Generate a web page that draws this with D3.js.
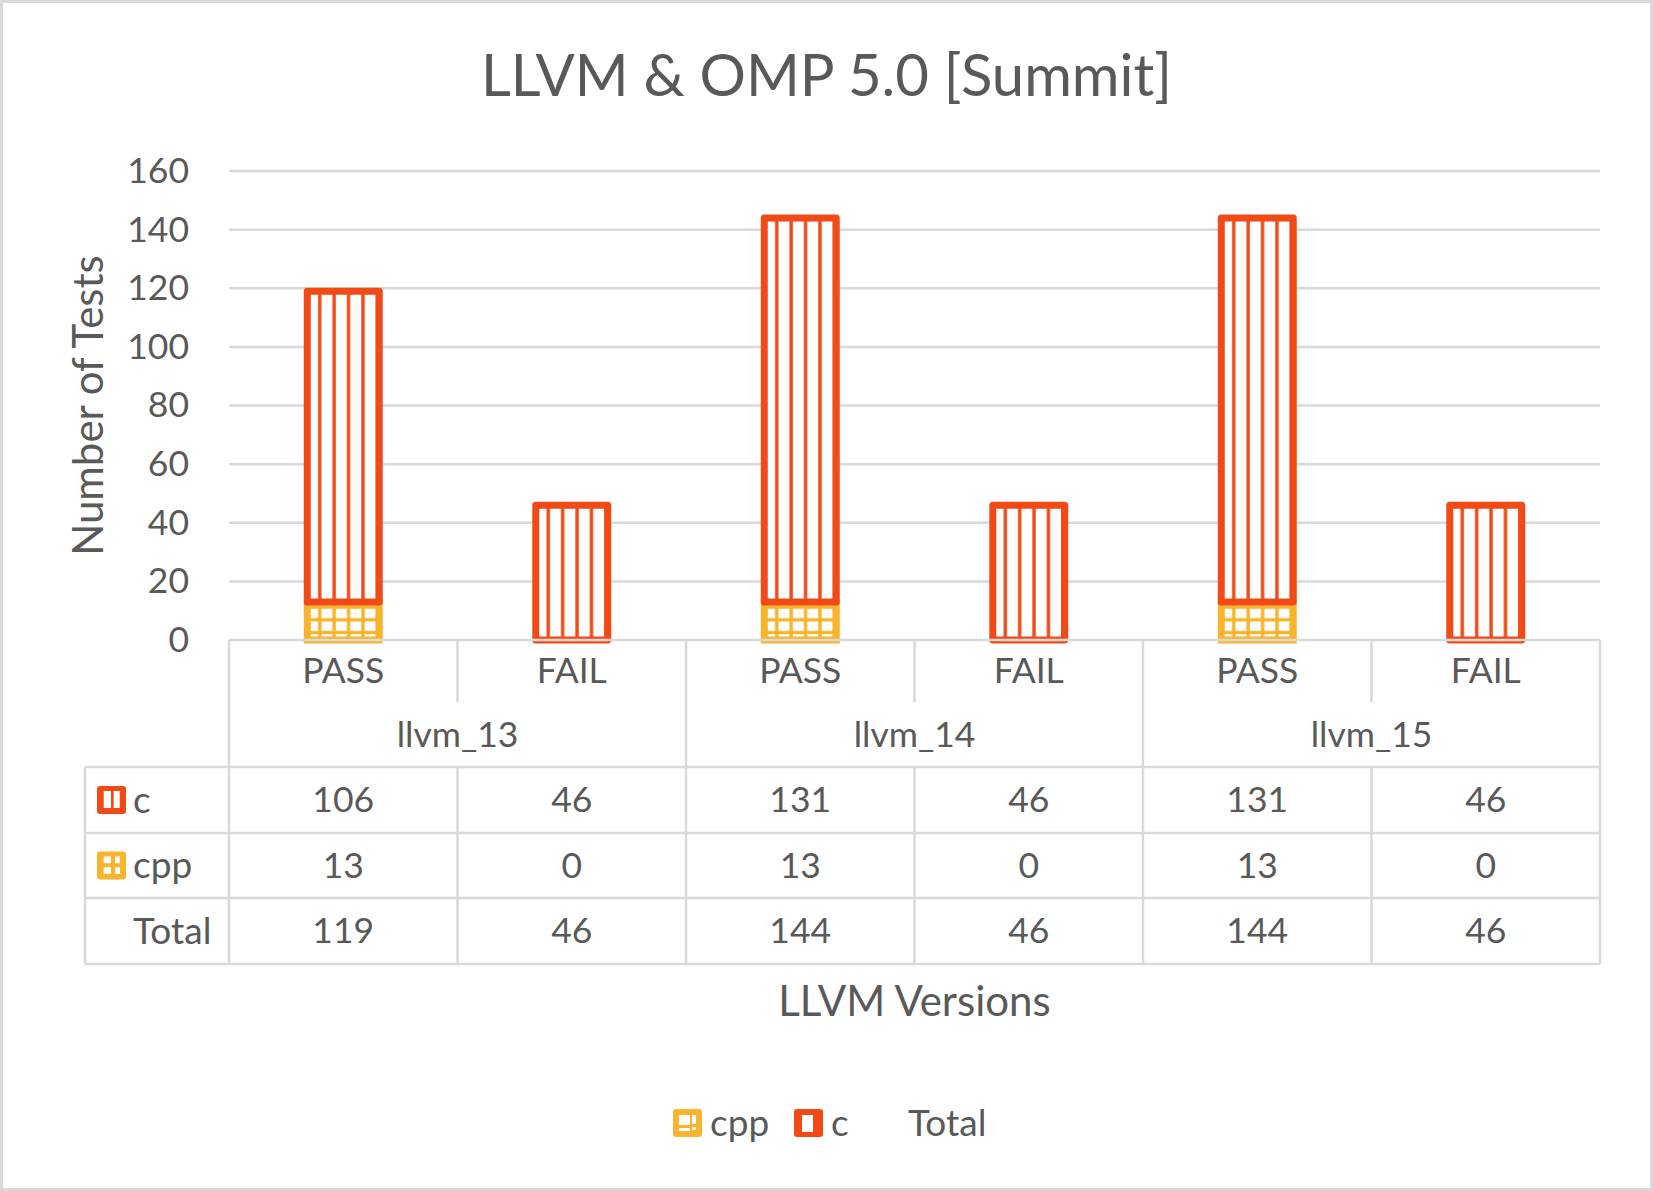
<!DOCTYPE html>
<html>
<head>
<meta charset="utf-8">
<script src="https://cdn.jsdelivr.net/npm/d3@7"></script>
<style>
  body { margin: 0; background: #fff; }
  svg text { font-family: Lato, "Open Sans", sans-serif; fill: #595959; }
</style>
</head>
<body>
<svg id="chart" width="1653" height="1191"></svg>
<script>
// chart data
const versions = ['llvm_13', 'llvm_14', 'llvm_15'];
const outcomes = ['PASS', 'FAIL'];
const cValues = [106, 46, 131, 46, 131, 46];
const cppValues = [13, 0, 13, 0, 13, 0];
const totalValues = [119, 46, 144, 46, 144, 46];
const yTicks = [0, 20, 40, 60, 80, 100, 120, 140, 160];

const orange = '#F14A16';
const yellow = '#F8B42C';
const lineGrey = '#D9D9D9';

const W = 1653, H = 1191;
const plotLeft = 229, plotRight = 1600, plotTop = 171, plotBase = 640;

const keys = [];
versions.forEach(v => outcomes.forEach(o => keys.push(v + '|' + o)));

const svg = d3.select('#chart');
const defs = svg.append('defs');

svg.append('rect')
  .attr('x', 1.5).attr('y', 1.5)
  .attr('width', W - 3).attr('height', H - 3)
  .attr('fill', '#fff').attr('stroke', lineGrey).attr('stroke-width', 3);

const x = d3.scaleBand().domain(keys).range([plotLeft, plotRight]);
const y = d3.scaleLinear().domain([0, 160]).range([plotBase, plotTop]);
const barW = x.bandwidth() * 0.315;

// title
svg.append('text')
  .attr('x', W / 2).attr('y', 96)
  .attr('text-anchor', 'middle')
  .style('font-size', '58px')
  .text('LLVM & OMP 5.0 [Summit]');

// gridlines
svg.append('g')
  .selectAll('line')
  .data(yTicks.filter(d => d > 0))
  .join('line')
  .attr('x1', plotLeft).attr('x2', plotRight)
  .attr('y1', d => y(d)).attr('y2', d => y(d))
  .attr('stroke', lineGrey).attr('stroke-width', 2.5);

// y axis labels
const yAxis = svg.append('g')
  .attr('transform', `translate(${plotLeft},0)`)
  .call(d3.axisLeft(y).tickValues(yTicks).tickSize(0).tickPadding(40));
yAxis.select('.domain').remove();
yAxis.selectAll('text')
  .style('font-size', '35.5px')
  .attr('fill', '#595959')
  .style('font-family', 'Lato, "Open Sans", sans-serif');

svg.append('text')
  .attr('transform', `translate(88,${(plotTop + plotBase) / 2}) rotate(-90)`)
  .attr('text-anchor', 'middle')
  .attr('dy', '0.35em')
  .style('font-size', '42px')
  .text('Number of Tests');

// patterns, one per bar so the hatching starts at the bar edge
function makePattern(id, bx, by, color, grid) {
  const ph = grid ? 12.7 : 2000;
  const p = defs.append('pattern')
    .attr('id', id)
    .attr('patternUnits', 'userSpaceOnUse')
    .attr('x', bx).attr('y', by)
    .attr('width', barW / 5).attr('height', ph);
  p.append('rect').attr('width', barW / 5).attr('height', ph).attr('fill', '#fff');
  p.append('rect').attr('x', 10.8).attr('width', 3.4).attr('height', ph).attr('fill', color);
  if (grid) {
    p.append('rect').attr('y', 3.5).attr('width', barW / 5).attr('height', 3.4).attr('fill', color);
  }
}

const bars = svg.append('g');
keys.forEach((k, i) => {
  const bx = x(k) + (x.bandwidth() - barW) / 2;
  if (cppValues[i] > 0) {
    const y0 = y(cppValues[i]);
    makePattern('cpp-' + i, bx, y0, yellow, true);
    bars.append('rect')
      .attr('x', bx).attr('y', y0)
      .attr('width', barW).attr('height', y(0) - y0)
      .attr('fill', `url(#cpp-${i})`)
      .attr('stroke', yellow).attr('stroke-width', 7);
  }
  const yTop = y(cppValues[i] + cValues[i]);
  const yBot = y(cppValues[i]);
  makePattern('c-' + i, bx, yTop, orange, false);
  bars.append('rect')
    .attr('x', bx).attr('y', yTop)
    .attr('width', barW).attr('height', yBot - yTop)
    .attr('fill', `url(#c-${i})`)
    .attr('stroke', orange).attr('stroke-width', 7)
    .attr('stroke-linejoin', 'round');
});

// data table
const tLeft = 85;
const rowCat = [plotBase, 702];
const rowGroup = [702, 767];
const rows = [767, 833, 898, 964];
const grid = svg.append('g').attr('stroke', lineGrey).attr('stroke-width', 2.5);

grid.append('line').attr('x1', plotLeft).attr('x2', plotRight).attr('y1', plotBase).attr('y2', plotBase);
rows.forEach(ry => grid.append('line').attr('x1', tLeft).attr('x2', plotRight).attr('y1', ry).attr('y2', ry));
grid.append('line').attr('x1', tLeft).attr('x2', tLeft).attr('y1', rows[0]).attr('y2', rows[3]);

const groupW = (plotRight - plotLeft) / versions.length;
d3.range(versions.length + 1).forEach(i => {
  const gx = plotLeft + i * groupW;
  grid.append('line').attr('x1', gx).attr('x2', gx).attr('y1', plotBase).attr('y2', rows[3]);
});
keys.forEach((k, i) => {
  if (i % 2 === 1) {
    const sx = x(k);
    grid.append('line').attr('x1', sx).attr('x2', sx).attr('y1', rowCat[0]).attr('y2', rowCat[1]);
    grid.append('line').attr('x1', sx).attr('x2', sx).attr('y1', rows[0]).attr('y2', rows[3]);
  }
});

const cellText = (tx, ty, txt, anchor, size) => svg.append('text')
  .attr('x', tx).attr('y', ty)
  .attr('dy', '0.35em')
  .attr('text-anchor', anchor || 'middle')
  .style('font-size', (size || 35.5) + 'px')
  .text(txt);

keys.forEach((k, i) => {
  const cx = x(k) + x.bandwidth() / 2;
  cellText(cx, (rowCat[0] + rowCat[1]) / 2, k.split('|')[1]);
  cellText(cx, (rows[0] + rows[1]) / 2, cValues[i]);
  cellText(cx, (rows[1] + rows[2]) / 2, cppValues[i]);
  cellText(cx, (rows[2] + rows[3]) / 2, totalValues[i]);
});
versions.forEach((v, i) => {
  cellText(plotLeft + (i + 0.5) * groupW, (rowGroup[0] + rowGroup[1]) / 2, v);
});

// small swatches drawn as solid squares with white holes
function swatch(g, color, holes) {
  g.append('rect').attr('width', 29).attr('height', 28).attr('rx', 3).attr('fill', color);
  holes.forEach(h => g.append('rect')
    .attr('x', h[0]).attr('y', h[1]).attr('width', h[2]).attr('height', h[3]).attr('fill', '#fff'));
}

const cHolesTable = [[6.7, 5, 7.3, 17], [16.7, 5, 6, 17]];
const cppHolesTable = [[6.7, 5, 7.3, 6.7], [18, 5, 5, 6.7], [6.7, 15.7, 7.3, 6.7], [18, 15.7, 5, 6.7]];

swatch(svg.append('g').attr('transform', `translate(97,${(rows[0] + rows[1]) / 2 - 14})`), orange, cHolesTable);
swatch(svg.append('g').attr('transform', `translate(97,${(rows[1] + rows[2]) / 2 - 14})`), yellow, cppHolesTable);
cellText(133, (rows[0] + rows[1]) / 2, 'c', 'start', 37);
cellText(133, (rows[1] + rows[2]) / 2, 'cpp', 'start', 37);
cellText(133, (rows[2] + rows[3]) / 2, 'Total', 'start', 37);

svg.append('text')
  .attr('x', (plotLeft + plotRight) / 2).attr('y', 1001)
  .attr('dy', '0.35em')
  .attr('text-anchor', 'middle')
  .style('font-size', '42px')
  .text('LLVM Versions');

// legend
const legY = 1109;
swatch(svg.append('g').attr('transform', `translate(673,${legY})`), yellow,
  [[6, 6, 11, 10], [6, 19, 11, 3], [19, 6, 4, 9], [19, 18, 4, 3]]);
cellText(710, legY + 14, 'cpp', 'start', 37);
swatch(svg.append('g').attr('transform', `translate(794,${legY})`), orange, [[8, 6, 11, 17]]);
cellText(831, legY + 14, 'c', 'start', 37);
cellText(908, legY + 14, 'Total', 'start', 37);
</script>
</body>
</html>
